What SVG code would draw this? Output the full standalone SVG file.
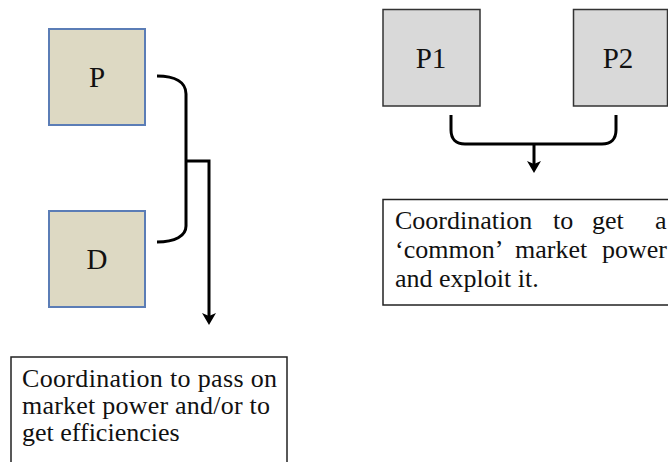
<svg xmlns="http://www.w3.org/2000/svg" width="668" height="462" viewBox="0 0 668 462">
  <style>
    .firm { fill: #ddd9c3; stroke: #5b7db6; stroke-width: 2; }
    .rival { fill: #d9d9d9; stroke: #333333; stroke-width: 1.5; }
    .note { fill: #ffffff; stroke: #222222; stroke-width: 1.5; }
    .label { font-family: "Liberation Serif", "Times New Roman", serif; font-size: 29px; fill: #111111; text-anchor: middle; }
    .body { font-family: "Liberation Serif", "Times New Roman", serif; font-size: 26px; fill: #111111; }
    .end { text-anchor: end; }
    .link { fill: none; stroke: #000000; stroke-width: 3; }
  </style>
  <defs>
    <marker id="head" viewBox="0 0 12 14" refX="3" refY="7" markerWidth="12" markerHeight="14" markerUnits="userSpaceOnUse" orient="auto">
      <path d="M0,0 L12,7 L0,14 L3,7 Z" fill="#000000"/>
    </marker>
  </defs>

  <!-- vertical relation: producer and distributor -->
  <g id="node-p">
    <rect class="firm" x="49" y="29" width="96" height="96"/>
    <text class="label" x="97" y="87">P</text>
  </g>
  <g id="node-d">
    <rect class="firm" x="49" y="211" width="96" height="96"/>
    <text class="label" x="97" y="269">D</text>
  </g>
  <g id="note-vertical">
    <rect class="note" x="11" y="357" width="276" height="130"/>
    <text class="body" x="22" y="387" textLength="255" lengthAdjust="spacing">Coordination to pass on</text>
    <text class="body" x="22" y="414" textLength="248" lengthAdjust="spacing">market power and/or to</text>
    <text class="body" x="22" y="441">get efficiencies</text>
  </g>

  <!-- horizontal relation: two producers -->
  <g id="node-p1">
    <rect class="rival" x="383" y="9.5" width="97" height="96.5"/>
    <text class="label" x="431" y="68">P1</text>
  </g>
  <g id="node-p2">
    <rect class="rival" x="573.5" y="9.5" width="94" height="96.5"/>
    <text class="label" x="618" y="68">P2</text>
  </g>
  <g id="note-horizontal">
    <rect class="note" x="383" y="199.5" width="300" height="105.5"/>
    <!-- justified lines: words placed one by one -->
    <text class="body" y="229"><tspan x="395">Coordination</tspan><tspan x="553">to</tspan><tspan x="592">get</tspan><tspan x="655">a</tspan></text>
    <text class="body" y="258"><tspan x="395">‘common’</tspan><tspan x="515">market</tspan></text>
    <text class="body end" x="667" y="258">power</text>
    <text class="body" x="395" y="287">and exploit it.</text>
  </g>

  <g id="connectors">
    <path class="link" d="M157,76 C175,76 186,82 186,94 V226 C186,236 175,242 157,242"/>
    <path class="link" d="M186,161 H209 V316" marker-end="url(#head)"/>
    <path class="link" d="M451,115 V130 C451,139 456,144 465,144 H602 C611,144 616,139 616,130 V115"/>
    <path class="link" d="M534,144 V164" marker-end="url(#head)"/>
  </g>
</svg>
